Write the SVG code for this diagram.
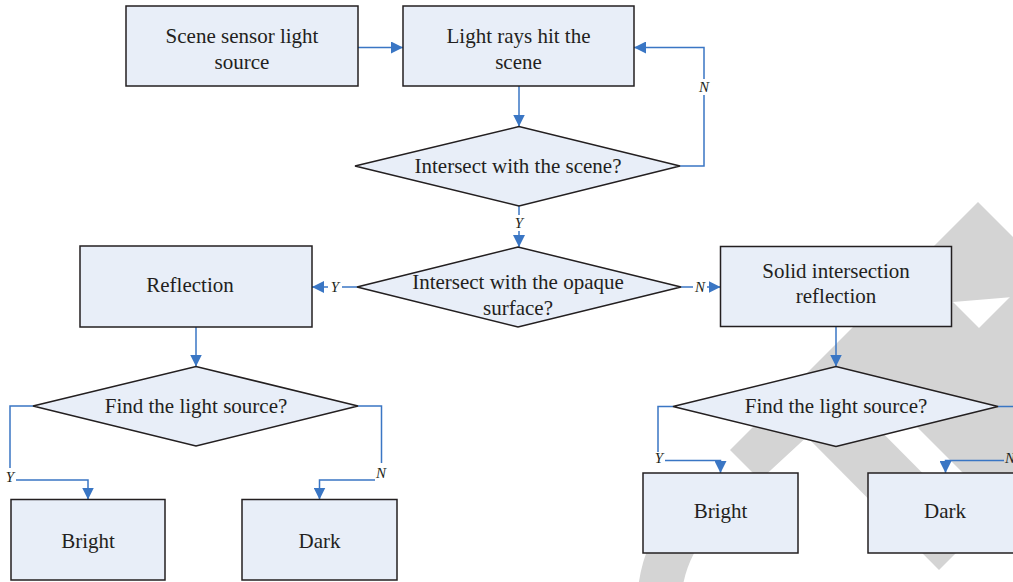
<svg xmlns="http://www.w3.org/2000/svg" width="1013" height="582" viewBox="0 0 1013 582">
<style>
.box{fill:#e8eef8;stroke:#231f20;stroke-width:1.5}
.t{font-family:"Liberation Serif","DejaVu Serif",serif;font-size:21px;fill:#231f20;text-anchor:middle}
.lb{font-family:"Liberation Serif","DejaVu Serif",serif;font-size:15px;font-style:italic;fill:#231f20;text-anchor:middle}
.c{fill:none;stroke:#3a76c4;stroke-width:1.5}
.wm{fill:#d4d4d4}
</style>
<defs>
<marker id="ah" markerUnits="userSpaceOnUse" markerWidth="12" markerHeight="12" refX="12" refY="6" orient="auto"><path d="M0,0 L12,6 L0,12 z" fill="#3a76c4"/></marker>
</defs>
<rect width="1013" height="582" fill="#ffffff"/>
<g id="watermark">
<polygon class="wm" points="978,202 1013,237 1013,297 953,302 760,480 730,450"/>
<polygon class="wm" points="953,302 979,328 1013,294 1013,523 865,375"/>
<polygon class="wm" points="805,435 845,395 979,530 939,570"/>
<path d="M660,590 C663,565 672,540 694,515" fill="none" stroke="#d4d4d4" stroke-width="44"/>
</g>
<g id="connectors">
<path class="c" d="M358,47.5 L403,47.5" marker-end="url(#ah)"/>
<path class="c" d="M680,166 L704,166 L704,95"/>
<path class="c" d="M704,79 L704,47.5 L634,47.5" marker-end="url(#ah)"/>
<path class="c" d="M519,86 L519,126.5" marker-end="url(#ah)"/>
<path class="c" d="M519,206 L519,215"/>
<path class="c" d="M519,231 L519,247" marker-end="url(#ah)"/>
<path class="c" d="M357,287 L342,287"/>
<path class="c" d="M328,287 L312,287" marker-end="url(#ah)"/>
<path class="c" d="M681,287 L693,287"/>
<path class="c" d="M707,287 L720.5,287" marker-end="url(#ah)"/>
<path class="c" d="M196,327 L196,366.5" marker-end="url(#ah)"/>
<path class="c" d="M33,406 L10,406 L10,468"/>
<path class="c" d="M16,480 L88,480 L88,499.5" marker-end="url(#ah)"/>
<path class="c" d="M358,406 L381.5,406 L381.5,463"/>
<path class="c" d="M375,480 L319.5,480 L319.5,499.5" marker-end="url(#ah)"/>
<path class="c" d="M836,327 L836,366.5" marker-end="url(#ah)"/>
<path class="c" d="M673,406.5 L658,406.5 L658,452"/>
<path class="c" d="M665,460.5 L720.5,460.5 L720.5,473" marker-end="url(#ah)"/>
<path class="c" d="M998,406.5 L1013,406.5"/>
<path class="c" d="M1004,460.5 L945.5,460.5 L945.5,473" marker-end="url(#ah)"/>
<text class="lb" x="704" y="92">N</text>
<text class="lb" x="519" y="228">Y</text>
<text class="lb" x="335" y="292">Y</text>
<text class="lb" x="700" y="292">N</text>
<text class="lb" x="10" y="482">Y</text>
<text class="lb" x="381" y="478">N</text>
<text class="lb" x="659" y="463">Y</text>
<text class="lb" x="1010" y="463">N</text>
</g>
<g id="n-source"><rect class="box" x="126" y="6" width="232" height="80"/><text class="t" x="242" y="43">Scene sensor light</text><text class="t" x="242" y="69">source</text></g>
<g id="n-rays"><rect class="box" x="403" y="6" width="231" height="80"/><text class="t" x="518.5" y="43">Light rays hit the</text><text class="t" x="518.5" y="69">scene</text></g>
<g id="n-scene"><polygon class="box" points="355,166 519,126.5 680,166 519,206"/><text class="t" x="518" y="173">Intersect with the scene?</text></g>
<g id="n-opaque"><polygon class="box" points="357,287 518,247 681,287 518,327"/><text class="t" x="518" y="289">Intersect with the opaque</text><text class="t" x="518" y="315">surface?</text></g>
<g id="n-reflection"><rect class="box" x="80" y="246" width="232" height="81"/><text class="t" x="190" y="292">Reflection</text></g>
<g id="n-solid"><rect class="box" x="720.5" y="246.5" width="231" height="80"/><text class="t" x="836" y="278">Solid intersection</text><text class="t" x="836" y="303">reflection</text></g>
<g id="n-find-left"><polygon class="box" points="33,406 196,366.5 358,406 196,446"/><text class="t" x="196" y="413">Find the light source?</text></g>
<g id="n-find-right"><polygon class="box" points="673,406.5 836,366.5 998,406.5 836,446.5"/><text class="t" x="836" y="413">Find the light source?</text></g>
<g id="n-bright-left"><rect class="box" x="11" y="499.5" width="154" height="80.5"/><text class="t" x="88" y="548">Bright</text></g>
<g id="n-dark-left"><rect class="box" x="242" y="499.5" width="155" height="80.5"/><text class="t" x="319.5" y="548">Dark</text></g>
<g id="n-bright-right"><rect class="box" x="643" y="473" width="155" height="80"/><text class="t" x="720.5" y="518">Bright</text></g>
<g id="n-dark-right"><rect class="box" x="868" y="473" width="160" height="80"/><text class="t" x="945" y="518">Dark</text></g>
</svg>
